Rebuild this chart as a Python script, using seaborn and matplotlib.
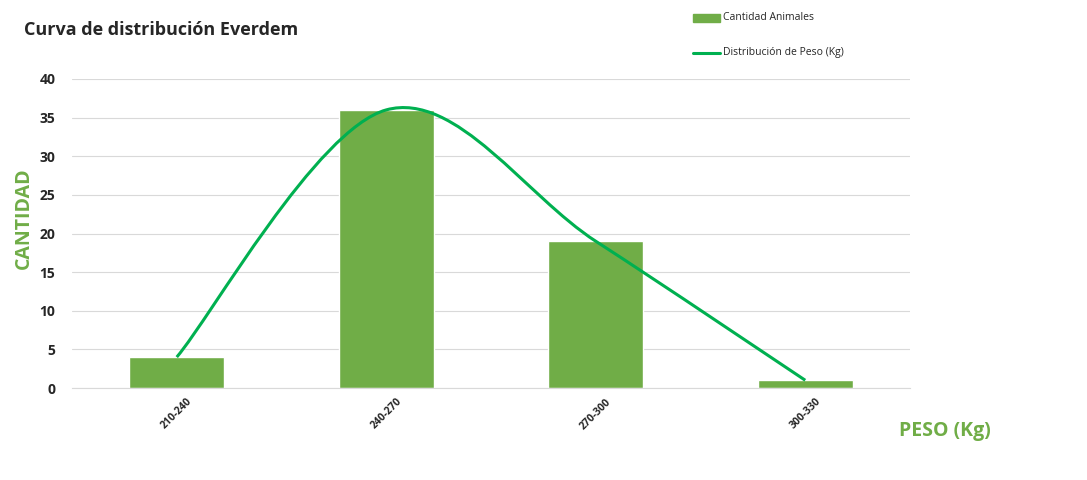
import numpy as np
import matplotlib.pyplot as plt
import seaborn as sns
from matplotlib.path import Path
from matplotlib.patches import PathPatch

categorias = ["210-240", "240-270", "270-300", "300-330"]
cantidad = [4, 36, 19, 1]

sns.set_style("white")
plt.rcParams['font.family'] = ['Open Sans', 'DejaVu Sans']

fig = plt.figure(figsize=(10.87, 4.8), dpi=100)
ax = fig.add_axes([72 / 1087, 1 - 388 / 480, 838 / 1087, 309 / 480])

sns.barplot(x=categorias, y=cantidad, color="#70AD47", saturation=1, width=0.455, ax=ax)

# smoothed line like Excel (Catmull-Rom -> Bezier) through bar tops
pts = np.column_stack([np.arange(len(cantidad)), cantidad]).astype(float)
verts = [pts[0]]
codes = [Path.MOVETO]
for i in range(len(pts) - 1):
    p_prev = pts[max(i - 1, 0)]
    p_next2 = pts[min(i + 2, len(pts) - 1)]
    c1 = pts[i] + (pts[i + 1] - p_prev) / 6
    c2 = pts[i + 1] - (p_next2 - pts[i]) / 6
    verts += [c1, c2, pts[i + 1]]
    codes += [Path.CURVE4] * 3
ax.add_patch(PathPatch(Path(verts, codes), fill=False, edgecolor="#00B050", lw=2.2, zorder=3))

ax.set_xlim(-0.5, 3.5)
ax.set_ylim(0, 40)
ax.set_yticks(range(0, 41, 5))
ax.grid(axis="y", color="#D9D9D9", lw=0.8)
ax.set_axisbelow(True)
for s in ["top", "right", "left"]:
    ax.spines[s].set_visible(False)
ax.spines["bottom"].set_color("#D9D9D9")
ax.tick_params(axis="y", labelsize=10, length=0, pad=12)
ax.tick_params(axis="x", labelsize=7.5, length=0, pad=6)
for lbl in ax.get_yticklabels():
    lbl.set_fontweight("bold")
for lbl in ax.get_xticklabels():
    lbl.set_rotation(45)
    lbl.set_fontweight("bold")
    lbl.set_ha("center")
    lbl.set_va("top")

fig.text(24 / 1087, 1 - 30 / 480, "Curva de distribución Everdem", fontsize=13, fontweight="bold", va="center")
fig.text(24 / 1087, 1 - 218 / 480, "CANTIDAD", fontsize=14, fontweight="bold", color="#70AD47",
         rotation=90, ha="center", va="center")
fig.text(945 / 1087, 1 - 431 / 480, "PESO (Kg)", fontsize=14, fontweight="bold", color="#70AD47",
         ha="center", va="center")

# legend
fig.patches.append(plt.Rectangle((693 / 1087, 1 - 22 / 480), 27 / 1087, 8 / 480,
                                 transform=fig.transFigure, color="#70AD47"))
fig.text(723 / 1087, 1 - 18 / 480, "Cantidad Animales", fontsize=7.5, va="center")
fig.lines.append(plt.Line2D([693 / 1087, 720 / 1087], [1 - 53 / 480] * 2,
                            transform=fig.transFigure, color="#00B050", lw=2.2))
fig.text(723 / 1087, 1 - 53 / 480, "Distribución de Peso (Kg)", fontsize=7.5, va="center")

fig.savefig("out.png", dpi=100)
